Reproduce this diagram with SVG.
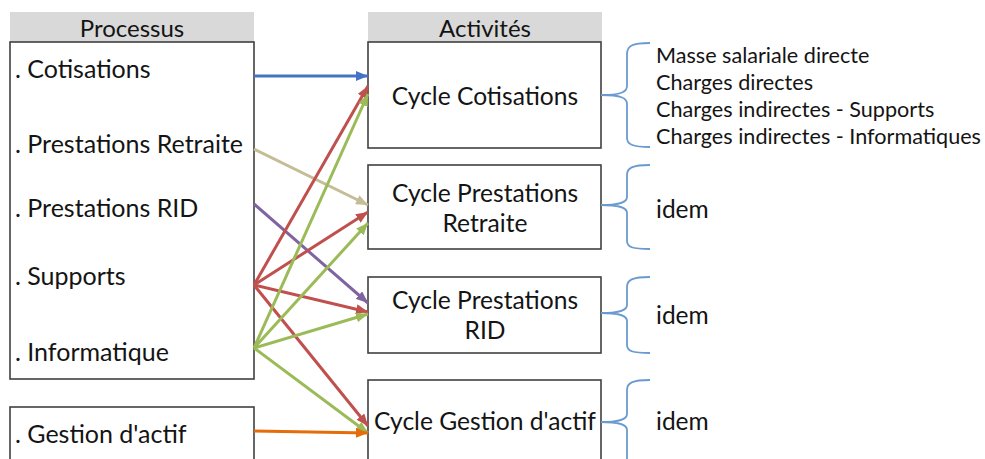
<svg xmlns="http://www.w3.org/2000/svg" width="985" height="459" viewBox="0 0 985 459">
<style>
.hdr{fill:#D9D9D9;stroke:none}
.box{fill:#FFFFFF;stroke:#404040;stroke-width:1.6}
.t{font-family:Lato,"Open Sans","Liberation Sans",sans-serif;fill:#141414}
.lt{font-size:25px}
.ht{font-size:24px;text-anchor:middle}
.ct{font-size:24.6px;text-anchor:middle}
.rt{font-size:21.6px}
.it{font-size:24.5px}
.br{fill:none;stroke:#6A9AD0;stroke-width:1.8}
.c{fill:none;stroke-width:3}
</style>
<defs>
<marker id="mB" viewBox="0 0 12 10" refX="12" refY="5" markerWidth="12" markerHeight="10" markerUnits="userSpaceOnUse" orient="auto"><path d="M0,0 L12,5 L0,10 z" fill="#4472C4"/></marker>
<marker id="mT" viewBox="0 0 12 10" refX="12" refY="5" markerWidth="12" markerHeight="10" markerUnits="userSpaceOnUse" orient="auto"><path d="M0,0 L12,5 L0,10 z" fill="#C4BD97"/></marker>
<marker id="mP" viewBox="0 0 12 10" refX="12" refY="5" markerWidth="12" markerHeight="10" markerUnits="userSpaceOnUse" orient="auto"><path d="M0,0 L12,5 L0,10 z" fill="#8064A2"/></marker>
<marker id="mR" viewBox="0 0 12 10" refX="12" refY="5" markerWidth="12" markerHeight="10" markerUnits="userSpaceOnUse" orient="auto"><path d="M0,0 L12,5 L0,10 z" fill="#C0504D"/></marker>
<marker id="mG" viewBox="0 0 12 10" refX="12" refY="5" markerWidth="12" markerHeight="10" markerUnits="userSpaceOnUse" orient="auto"><path d="M0,0 L12,5 L0,10 z" fill="#9BBB59"/></marker>
<marker id="mO" viewBox="0 0 12 10" refX="12" refY="5" markerWidth="12" markerHeight="10" markerUnits="userSpaceOnUse" orient="auto"><path d="M0,0 L12,5 L0,10 z" fill="#E46C0A"/></marker>
</defs>
<rect width="985" height="459" fill="#FFFFFF"/>

<g id="processus">
<rect class="hdr" x="10" y="12" width="244" height="30"/>
<text class="t ht" x="132" y="37">Processus</text>
<rect class="box" x="10" y="42" width="244" height="337"/>
<text class="t lt" x="15" y="78">. Cotisations</text>
<text class="t lt" x="15" y="153">. Prestations Retraite</text>
<text class="t lt" x="15" y="217">. Prestations RID</text>
<text class="t lt" x="15" y="285">. Supports</text>
<text class="t lt" x="15" y="361">. Informatique</text>
</g>
<g id="gestion">
<rect class="box" x="10" y="407" width="244" height="60"/>
<text class="t lt" x="15" y="443">. Gestion d'actif</text>
</g>

<g id="activites">
<rect class="hdr" x="368" y="12" width="234" height="30"/>
<text class="t ht" x="485" y="37">Activités</text>
</g>
<g id="cycle-cotisations">
<rect class="box" x="368" y="42" width="233" height="106"/>
<text class="t ct" x="485" y="105">Cycle Cotisations</text>
</g>
<g id="cycle-retraite">
<rect class="box" x="368" y="165" width="233" height="84"/>
<text class="t ct" x="485" y="202">Cycle Prestations</text>
<text class="t ct" x="485" y="232">Retraite</text>
</g>
<g id="cycle-rid">
<rect class="box" x="368" y="277" width="233" height="76"/>
<text class="t ct" x="485" y="309">Cycle Prestations</text>
<text class="t ct" x="485" y="339">RID</text>
</g>
<g id="cycle-gestion">
<rect class="box" x="368" y="380" width="233" height="90"/>
<text class="t ct" x="485" y="430">Cycle Gestion d'actif</text>
</g>

<g id="details">
<path class="br" d="M650,43 C632,43 627,46 627,54 L627,86 C627,92 621,95 601,95 C621,95 627,98 627,104 L627,138 C627,144 632,147 650,147"/>
<text class="t rt" x="656" y="63">Masse salariale directe</text>
<text class="t rt" x="656" y="90">Charges directes</text>
<text class="t rt" x="656" y="117">Charges indirectes - Supports</text>
<text class="t rt" x="656" y="144">Charges indirectes - Informatiques</text>
<path class="br" d="M650,165 C632,165 627,168 627,175 L627,197 C627,202 621,205 601,205 C621,205 627,208 627,213 L627,241 C627,247 632,249 650,249"/>
<text class="t it" x="656" y="218">idem</text>
<path class="br" d="M650,277 C632,277 627,280 627,287 L627,305 C627,310 621,313 601,313 C621,313 627,316 627,321 L627,345 C627,351 632,353 650,353"/>
<text class="t it" x="656" y="324">idem</text>
<path class="br" d="M650,380 C632,380 627,383 627,390 L627,414 C627,419 621,422 601,422 C621,422 627,425 627,430 L627,470"/>
<text class="t it" x="656" y="430">idem</text>
</g>

<g id="connectors">
<line class="c" stroke="#4472C4" x1="254" y1="76" x2="368" y2="76" marker-end="url(#mB)"/>
<line class="c" stroke="#C4BD97" x1="254" y1="149" x2="368" y2="205" marker-end="url(#mT)"/>
<line class="c" stroke="#8064A2" x1="254" y1="204" x2="368" y2="303" marker-end="url(#mP)"/>
<line class="c" stroke="#C0504D" x1="254" y1="285" x2="368" y2="86" marker-end="url(#mR)"/>
<line class="c" stroke="#C0504D" x1="254" y1="285" x2="368" y2="212" marker-end="url(#mR)"/>
<line class="c" stroke="#C0504D" x1="254" y1="285" x2="368" y2="312" marker-end="url(#mR)"/>
<line class="c" stroke="#C0504D" x1="254" y1="285" x2="368" y2="426" marker-end="url(#mR)"/>
<line class="c" stroke="#9BBB59" x1="254" y1="348" x2="368" y2="94" marker-end="url(#mG)"/>
<line class="c" stroke="#9BBB59" x1="254" y1="348" x2="368" y2="223" marker-end="url(#mG)"/>
<line class="c" stroke="#9BBB59" x1="254" y1="348" x2="368" y2="314" marker-end="url(#mG)"/>
<line class="c" stroke="#9BBB59" x1="254" y1="348" x2="368" y2="433" marker-end="url(#mG)"/>
<line class="c" stroke="#E46C0A" x1="254" y1="431" x2="368" y2="433" marker-end="url(#mO)"/>
</g>
</svg>
